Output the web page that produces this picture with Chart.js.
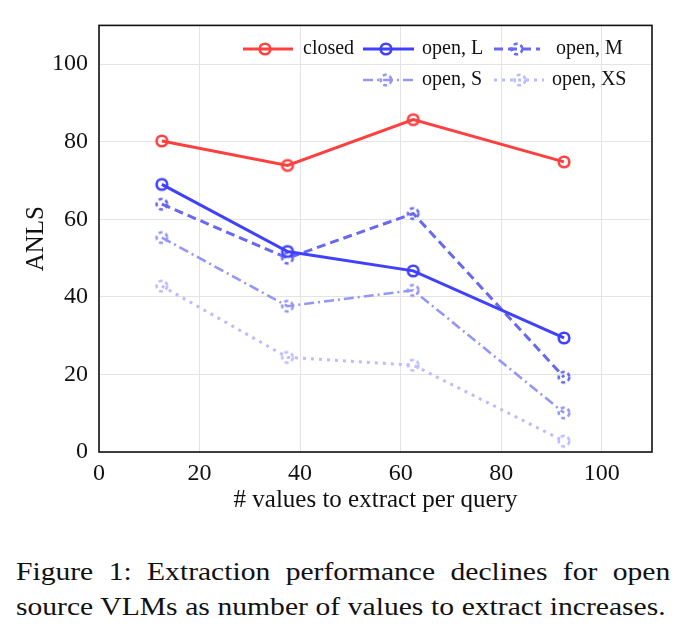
<!DOCTYPE html>
<html>
<head>
<meta charset="utf-8">
<script src="https://cdn.jsdelivr.net/npm/chart.js@4.4.1/dist/chart.umd.min.js"></script>
<style>
    body { margin: 0; background: #fff; }
    #wrap { position: relative; width: 686px; height: 640px; }
    canvas { position: absolute; left: 0; top: 0; }
    .caption { position: absolute; left: 16px; width: 564px; font-family: 'Liberation Serif', serif; font-size: 25.5px; line-height: 28px; color: #111; text-align: justify; text-align-last: justify; white-space: nowrap; transform: scaleX(1.16); transform-origin: 0 0; }
    #cap1 { top: 558px; }
    #cap2 { top: 593px; width: 560px; }
</style>
</head>
<body>
<div id="wrap">
    <canvas id="chart" width="686" height="530"></canvas>
    <div class="caption" id="cap1">Figure 1: Extraction performance declines for open</div>
    <div class="caption" id="cap2">source VLMs as number of values to extract increases.</div>
</div>
<script>
const xValues = [12.5, 37.5, 62.5, 92.5];
const closedValues = [80.2, 73.9, 85.7, 74.8];
const openL = [69.0, 51.7, 46.7, 29.4];
const openM = [63.9, 50.0, 61.5, 19.3];
const openS = [55.3, 37.6, 41.7, 10.1];
const openXS = [42.8, 24.4, 22.4, 2.8];
const xTicks = [0, 20, 40, 60, 80, 100];
const yTicks = [0, 20, 40, 60, 80, 100];

const serif = "'Liberation Serif', 'DejaVu Serif', serif";

function makeMarker(color, dash) {
    const c = document.createElement('canvas');
    c.width = 16;
    c.height = 16;
    const g = c.getContext('2d');
    g.strokeStyle = color;
    g.lineWidth = 2.6;
    g.setLineDash(dash);
    g.beginPath();
    g.arc(8, 8, 5.3, 0, Math.PI * 2);
    g.stroke();
    return c;
}

const series = [
    { label: 'closed', data: closedValues, color: 'rgb(255,64,64)', dash: [], width: 3 },
    { label: 'open, L', data: openL, color: 'rgb(64,64,255)', dash: [], width: 3 },
    { label: 'open, M', data: openM, color: 'rgb(104,104,240)', dash: [9, 5], width: 3 },
    { label: 'open, S', data: openS, color: 'rgb(150,150,248)', dash: [10, 4, 2, 4], width: 2.6 },
    { label: 'open, XS', data: openXS, color: 'rgb(188,188,255)', dash: [3, 5], width: 3 }
];
series.forEach((s) => {
    s.marker = makeMarker(s.color, s.dash.length ? [4, 3] : []);
});

// legend slots: [line start, line end, marker x, text x, row y]
const legendSlots = [
    [243, 293, 265, 303, 49],
    [363, 414, 386, 422, 49],
    [494, 540, 517, 556, 49],
    [363, 414, 386, 422, 80],
    [494, 544, 520, 552, 80]
];

const framePlugin = {
    id: 'frame',
    afterDraw(chart) {
        const { ctx, chartArea } = chart;
        ctx.save();
        ctx.strokeStyle = '#111';
        ctx.lineWidth = 1.6;
        ctx.strokeRect(chartArea.left, chartArea.top, chartArea.right - chartArea.left, chartArea.bottom - chartArea.top);

        ctx.font = '20px ' + serif;
        ctx.textBaseline = 'middle';
        ctx.fillStyle = '#111';
        series.forEach((s, i) => {
            const [x0, x1, mx, tx, y] = legendSlots[i];
            ctx.strokeStyle = s.color;
            ctx.lineWidth = s.width;
            ctx.setLineDash(s.dash);
            ctx.beginPath();
            ctx.moveTo(x0, y);
            ctx.lineTo(x1, y);
            ctx.stroke();
            ctx.setLineDash([]);
            ctx.drawImage(s.marker, mx - 8, y - 8);
            ctx.fillText(s.label, tx, y);
        });
        ctx.restore();
    }
};

new Chart(document.getElementById('chart').getContext('2d'), {
    type: 'line',
    data: {
        datasets: series.map((s) => ({
            label: s.label,
            data: xValues.map((x, i) => ({ x, y: s.data[i] })),
            borderColor: s.color,
            borderWidth: s.width,
            borderDash: s.dash,
            pointStyle: s.marker,
            pointRadius: 6,
            tension: 0,
            fill: false
        }))
    },
    options: {
        responsive: false,
        animation: false,
        layout: { padding: { top: 24, right: 34, left: 0, bottom: 0 } },
        plugins: { legend: { display: false }, tooltip: { enabled: false } },
        scales: {
            x: {
                type: 'linear',
                min: 0,
                max: 110,
                afterFit: (scale) => { scale.height = 78; },
                afterBuildTicks: (scale) => { scale.ticks = xTicks.map((v) => ({ value: v })); },
                grid: { color: '#e4e4e4', tickLength: 0 },
                border: { display: false },
                ticks: { color: '#111', padding: 7, font: { family: serif, size: 24 } },
                title: { display: true, text: '# values to extract per query', color: '#111', padding: { top: 0, bottom: 15 }, font: { family: serif, size: 25 } }
            },
            y: {
                min: 0,
                max: 110,
                afterFit: (scale) => { scale.width = 99; },
                afterBuildTicks: (scale) => { scale.ticks = yTicks.map((v) => ({ value: v })); },
                grid: { color: '#e4e4e4', tickLength: 0 },
                border: { display: false },
                ticks: { color: '#111', padding: 11, font: { family: serif, size: 24 } },
                title: { display: true, text: 'ANLS', color: '#111', padding: { top: 21, bottom: 0 }, font: { family: serif, size: 25 } }
            }
        }
    },
    plugins: [framePlugin]
});
</script>
</body>
</html>
